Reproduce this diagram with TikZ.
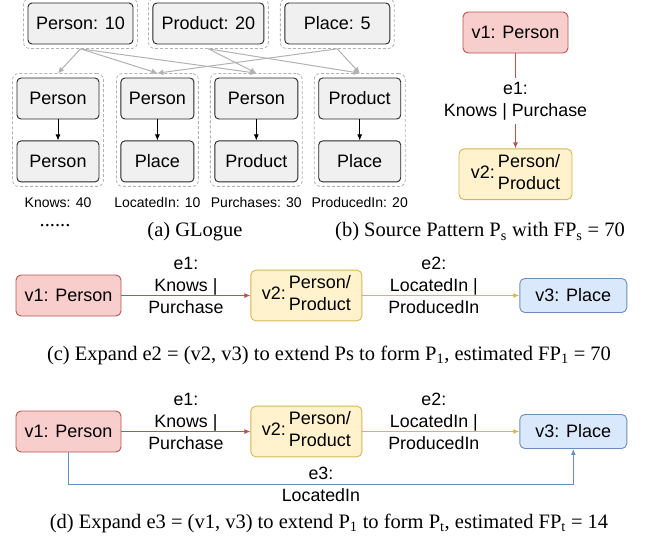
\documentclass[tikz,border=0pt]{standalone}
\usepackage{fontspec}
\setmainfont{Liberation Serif}
\setsansfont{Liberation Sans}
\usetikzlibrary{shapes,arrows.meta,positioning,fit}
\definecolor{vred}{HTML}{F8CECC}
\definecolor{vredline}{HTML}{B85450}
\definecolor{vyellow}{HTML}{FFF2CC}
\definecolor{vyellowline}{HTML}{D6B656}
\definecolor{vblue}{HTML}{DAE8FC}
\definecolor{vblueline}{HTML}{6C8EBF}
\tikzstyle{gbox} = [rectangle, draw=black!85, fill=gray!12, line width=0.9pt, rounded corners=4pt, minimum height=41pt, align=center, font=\sffamily\fontsize{18}{22}\selectfont]
\tikzstyle{grp} = [rectangle, draw=gray!60, line width=0.8pt, dash pattern=on 3pt off 2pt, rounded corners=6pt, inner sep=4pt]
\tikzstyle{rbox} = [rectangle, draw=vredline, fill=vred, line width=0.9pt, rounded corners=5pt, minimum width=105pt, minimum height=41pt, align=center, font=\sffamily\fontsize{18}{22}\selectfont]
\tikzstyle{ybox} = [rectangle, draw=vyellowline, fill=vyellow, line width=0.9pt, rounded corners=5pt, minimum width=111pt, minimum height=50pt, align=center, font=\sffamily\fontsize{18}{22}\selectfont]
\tikzstyle{bbox} = [rectangle, draw=vblueline, fill=vblue, line width=0.9pt, rounded corners=5pt, minimum width=107pt, minimum height=34pt, align=center, font=\sffamily\fontsize{18}{22}\selectfont]
\tikzstyle{elabel} = [align=center, font=\sffamily\fontsize{17.8}{22}\selectfont]
\tikzstyle{count} = [font=\sffamily\fontsize{14}{16}\selectfont]
\tikzstyle{caption} = [font=\rmfamily\fontsize{20.5}{24}\selectfont]
\tikzstyle{line} = [draw, -{Latex[length=6pt, width=5pt]}, line width=1pt]
\tikzstyle{gline} = [draw=gray!60, -{Latex[length=6pt, width=6pt]}, line width=1pt]
\newcommand{\vtwo}{v2:\,\begin{tabular}{@{}l@{}}Person/\\Product\end{tabular}}

\begin{document}
\begin{tikzpicture}[x=1pt, y=-1pt]
    \useasboundingbox (0,0) rectangle (652,544);
    % (a) GLogue
    \node [gbox, minimum width=105pt] (pers) at (80.5,23.5) {Person: 10};
    \node [gbox, minimum width=111pt, right=19pt of pers] (prod) {Product: 20};
    \node [gbox, minimum width=105pt, right=20pt of prod] (plac) {Place: 5};
    \node [grp, fit=(pers)] (persg) {};
    \node [grp, fit=(prod)] (prodg) {};
    \node [grp, fit=(plac)] (placg) {};
    \node [gbox, minimum width=82pt] (knowsa) at (58,98.5) {Person};
    \node [gbox, minimum width=82pt, below=21pt of knowsa] (knowsb) {Person};
    \node [gbox, minimum width=73pt, right=21pt of knowsa] (loca) {Person};
    \node [gbox, minimum width=73pt, below=21pt of loca] (locb) {Place};
    \node [gbox, minimum width=83pt, right=20pt of loca] (purcha) {Person};
    \node [gbox, minimum width=83pt, below=21pt of purcha] (purchb) {Product};
    \node [gbox, minimum width=82pt, right=20pt of purcha] (proda) {Product};
    \node [gbox, minimum width=82pt, below=21pt of proda] (prodb) {Place};
    \node [grp, fit=(knowsa)(knowsb)] (knowsg) {};
    \node [grp, fit=(loca)(locb)] (locg) {};
    \node [grp, fit=(purcha)(purchb)] (purchg) {};
    \node [grp, fit=(proda)(prodb)] (prodedg) {};
    \path [line, line width=0.8pt] (knowsa) -- (knowsb);
    \path [line, line width=0.8pt] (loca) -- (locb);
    \path [line, line width=0.8pt] (purcha) -- (purchb);
    \path [line, line width=0.8pt] (proda) -- (prodb);
    \path [gline] (persg.south) -- (knowsg.north);
    \path [gline] (persg.south) -- (locg.north);
    \path [gline] (persg.south) -- (purchg.north);
    \path [gline] (prodg.south) -- (purchg.north);
    \path [gline] (prodg.south) -- (prodedg.north);
    \path [gline] (placg.south) -- (locg.north);
    \path [gline] (placg.south) -- (prodedg.north);
    \node [count, below=7pt of knowsg] (knowsn) {Knows: 40};
    \node [count, below=7pt of locg] (locn) {LocatedIn: 10};
    \node [count, below=7pt of purchg] (purchn) {Purchases: 30};
    \node [count, below=7pt of prodedg] (prodn) {ProducedIn: 20};
    \node [caption] (dots) at (55,226) {......};
    \node [caption] (capa) at (195,232) {(a) GLogue};
    % (b) source pattern
    \node [rbox] (v1b) at (515.5,32.5) {v1: Person};
    \node [ybox, minimum width=113pt, minimum height=49pt, below=95pt of v1b] (v2b) {\vtwo};
    \path [line, draw=vredline] (v1b) -- node[elabel, fill=white, inner sep=4pt]{e1:\\Knows | Purchase} (v2b);
    \node [caption] (capb) at (480,232) {(b) Source Pattern P\textsubscript{s} with FP\textsubscript{s} = 70};
    % (c) expand e2
    \node [rbox] (v1c) at (68.5,295.5) {v1: Person};
    \node [ybox, right=129pt of v1c] (v2c) {\vtwo};
    \node [bbox, right=157pt of v2c] (v3c) {v3: Place};
    \path [line, draw=vredline] (v1c) -- node[elabel, yshift=10.5pt]{e1:\\Knows |\\Purchase} (v2c);
    \path [line, draw=vyellowline] (v2c) -- node[elabel, yshift=10.5pt, xshift=-7pt]{e2:\\LocatedIn |\\ProducedIn} (v3c);
    \node [caption] (capc) at (329,355) {(c) Expand e2 = (v2, v3) to extend Ps to form P\textsubscript{1}, estimated FP\textsubscript{1} = 70};
    % (d) expand e3
    \node [rbox] (v1d) at (68.5,431.5) {v1: Person};
    \node [ybox, right=129pt of v1d] (v2d) {\vtwo};
    \node [bbox, right=157pt of v2d] (v3d) {v3: Place};
    \coordinate [below=32pt of v1d] (e3c);
    \path [line, draw=vredline] (v1d) -- node[elabel, yshift=10.5pt]{e1:\\Knows |\\Purchase} (v2d);
    \path [line, draw=vyellowline] (v2d) -- node[elabel, yshift=10.5pt, xshift=-7pt]{e2:\\LocatedIn |\\ProducedIn} (v3d);
    \path [line, draw=vblueline] (v1d) -- (e3c) -| node[elabel, pos=0.25]{e3:\\LocatedIn} (v3d);
    \node [caption] (capd) at (329,523) {(d) Expand e3 = (v1, v3) to extend P\textsubscript{1} to form P\textsubscript{t}, estimated FP\textsubscript{t} = 14};
\end{tikzpicture}
\end{document}
